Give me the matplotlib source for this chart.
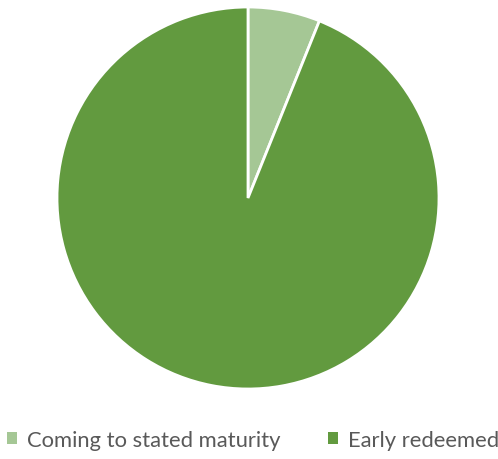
import matplotlib
matplotlib.use("Agg")
import matplotlib.pyplot as plt
from matplotlib.patches import Patch

labels = ["Coming to stated maturity", "Early redeemed"]
values = [6.1, 93.9]
colors = ["#A5C795", "#629A3F"]

W, H = 498, 460
fig = plt.figure(figsize=(W/100, H/100), dpi=100)
cx, cy, r = 248, 199, 191
ax = fig.add_axes([(cx-r)/W, (H-cy-r)/H, 2*r/W, 2*r/H])
ax.pie(values, colors=colors, startangle=90, counterclock=False, radius=1,
       wedgeprops=dict(edgecolor="white", linewidth=2.0))
ax.set_xlim(-1, 1); ax.set_ylim(-1, 1)
ax.set_aspect("equal")
ax.axis("off")

handles = [Patch(facecolor=c, edgecolor="none") for c in colors]
fig.legend(handles, labels, loc="center", bbox_to_anchor=(0.508, 1-441/H), ncol=2,
           frameon=False, prop=dict(family="Lato", size=15.8),
           labelcolor="#595959", handlelength=0.45, handleheight=0.45,
           handletextpad=0.45, columnspacing=2.2, borderpad=0)
fig.savefig("out.png", dpi=100)
